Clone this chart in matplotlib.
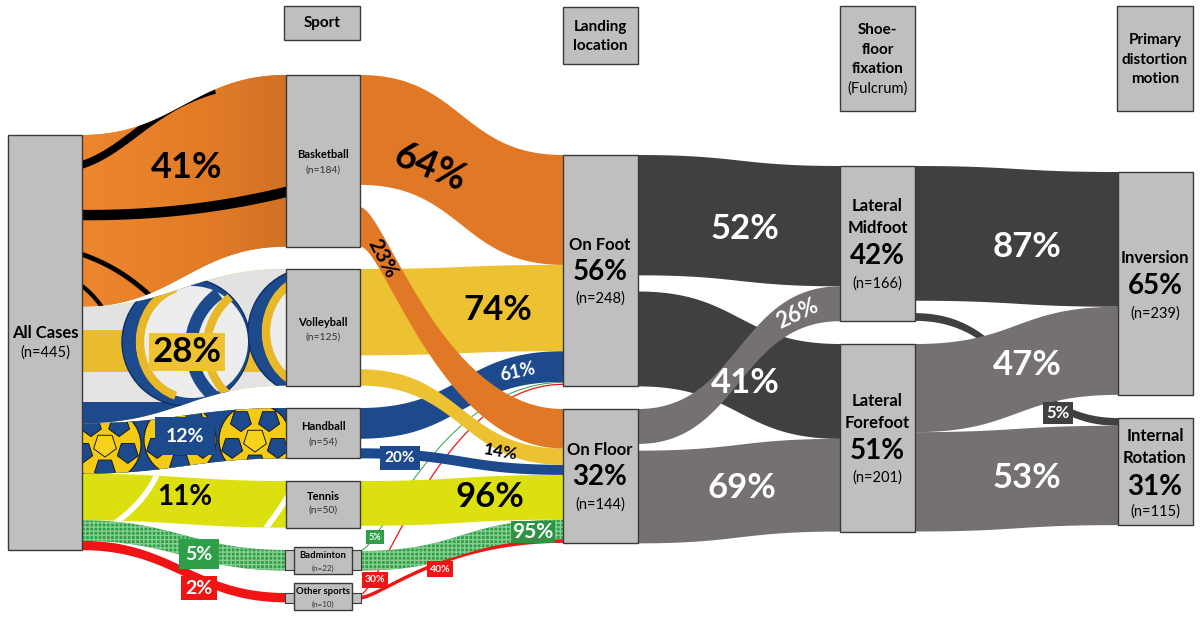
import numpy as np
import matplotlib
matplotlib.use("Agg")
import matplotlib.pyplot as plt
from matplotlib.patches import Polygon, Rectangle, Circle, Arc, RegularPolygon
from matplotlib.colors import LinearSegmentedColormap

plt.rcParams['font.family'] = ['Lato', 'DejaVu Sans']

# ---------------- data ----------------
total_n = 445
sports = ['Basketball', 'Volleyball', 'Handball', 'Tennis', 'Badminton', 'Other sports']
sport_n = [184, 125, 54, 50, 22, 10]
sport_pct = [41, 28, 12, 11, 5, 2]
sport_to_foot_pct = [64, 74, 61, 0, 5, 30]
sport_to_floor_pct = [23, 14, 20, 96, 95, 40]

landing = ['On Foot', 'On Floor']
landing_n = [248, 144]
landing_pct = [56, 32]
foot_to_fix_pct = [52, 41]     # On Foot -> Midfoot, Forefoot
floor_to_fix_pct = [26, 69]    # On Floor -> Midfoot, Forefoot

fixation = ['Lateral\nMidfoot', 'Lateral\nForefoot']
fixation_n = [166, 201]
fixation_pct = [42, 51]
midfoot_to_motion_pct = [87, 5]     # -> Inversion, Internal Rotation
forefoot_to_motion_pct = [47, 53]

motion = ['Inversion', 'Internal\nRotation']
motion_n = [239, 115]
motion_pct = [65, 31]

headers = ['Sport', 'Landing\nlocation', 'Shoe-\nfloor\nfixation', 'Primary\ndistortion\nmotion']
header_sub = ['', '', '(Fulcrum)', '']

# ---------------- layout ----------------
K = 0.933  # px per case
COL = [(8, 82), (286, 360), (563, 638), (840, 915), (1118, 1193)]
ALL_TOP = 135
SPORT_TOP = [75, 269, 408, 481, 550, 593]
LAND_TOP = [155, 409]
FIX_TOP = [166, 344]
MOT_TOP = [172, 418]

NODE_FC = '#BFBFBF'
NODE_EC = '#3A3A3A'
ORANGE = '#E07826'
YELLOW = '#EDC232'
BLUE = '#1C4A8C'
TENNIS = '#DCE00E'
GREEN = '#2F9E48'
RED = '#F01414'
DARK = '#404040'
GRAY = '#767171'
sport_col = [ORANGE, YELLOW, BLUE, TENNIS, GREEN, RED]

fig = plt.figure(figsize=(12, 6.18), dpi=100)
ax = fig.add_axes([0, 0, 1, 1])
ax.axis('off')


def edge(x0, x1, ya, yb, a, b, n=160):
    u = np.linspace(0, 1, n)
    dx = x1 - x0
    px = [x0, x0 + a * dx, x1 - b * dx, x1]
    py = [ya, ya, yb, yb]
    c = [(1 - u) ** 3, 3 * (1 - u) ** 2 * u, 3 * (1 - u) * u ** 2, u ** 3]
    return sum(ci * p for ci, p in zip(c, px)), sum(ci * p for ci, p in zip(c, py))


def band(x0, x1, y0a, y0b, y1a, y1b, z=2, a=0.5, b=0.5, **kw):
    xt, yt = edge(x0, x1, y0a, y1a, a, b)
    xb, yb = edge(x0, x1, y0b, y1b, a, b)
    verts = np.concatenate([np.c_[xt, yt], np.c_[xb[::-1], yb[::-1]]])
    p = Polygon(verts, closed=True, zorder=z, lw=0, **kw)
    ax.add_patch(p)
    return p


def node(x0, x1, y0, y1, z=5, lw=1.0):
    ax.add_patch(Rectangle((x0, y0), x1 - x0, y1 - y0, fc=NODE_FC, ec=NODE_EC, lw=lw, zorder=z))


def txt(x, y, s, size, color='black', bold=True, rot=0, box=None, z=10, pad=0.15):
    kw = {}
    if box is not None:
        kw['bbox'] = dict(boxstyle=f'square,pad={pad}', fc=box, ec='none')
    ax.text(x, y, s, fontsize=size, color=color, fontweight='bold' if bold else 'normal',
            ha='center', va='center', rotation=rot, rotation_mode='anchor', zorder=z, **kw)


def bezier(p0, p1, p2, p3, n=100):
    t = np.linspace(0, 1, n)[:, None]
    P = [np.array(p, float) for p in (p0, p1, p2, p3)]
    pts = (1 - t) ** 3 * P[0] + 3 * (1 - t) ** 2 * t * P[1] + 3 * (1 - t) * t ** 2 * P[2] + t ** 3 * P[3]
    return pts[:, 0], pts[:, 1]


def clip_line(xs, ys, clip, color, lw, z):
    ln, = ax.plot(xs, ys, color=color, lw=lw, zorder=z, solid_capstyle='butt')
    ln.set_clip_path(clip)

# ---------------- stage 1: All cases -> sports ----------------
x0, x1 = COL[0][1], COL[1][0]
src = ALL_TOP
sport_bands = []
for i in range(6):
    h = sport_n[i] * K
    p = band(x0, x1, src, src + h, SPORT_TOP[i], SPORT_TOP[i] + h, z=2, fc=sport_col[i], a=0.45, b=0.45)
    sport_bands.append(p)
    src += h

# basketball: gradient + black seams
pb = sport_bands[0]
cm = LinearSegmentedColormap.from_list('bb', ['#EC872E', '#E8812A', '#E07A26', '#D27124'])
im = ax.imshow(np.linspace(0, 1, 256).reshape(1, -1), cmap=cm, extent=(82, 286, 320, 60),
               aspect='auto', zorder=2.1, interpolation='bicubic')
im.set_clip_path(pb)
for (p0, p1, p2, p3), lw in [(((78, 166), (125, 153), (150, 108), (215, 90)), 5.5),
                             (((78, 215), (160, 216), (230, 206), (290, 191)), 7.5),
                             (((78, 253), (105, 262), (130, 275), (160, 305)), 3.5),
                             (((78, 283), (88, 290), (96, 298), (104, 310)), 3.0)]:
    xs, ys = bezier(p0, p1, p2, p3)
    clip_line(xs, ys, pb, 'black', lw, 2.2)

# volleyball: stripes + balls
pv = sport_bands[1]
for (ya, yb, c) in [(250, 330, '#E2E2E2'), (330, 372, '#E8BC2C'), (372, 402, '#E4E4E4'), (402, 440, BLUE)]:
    r = Rectangle((82, ya), 204, yb - ya, fc=c, ec='none', zorder=2.1)
    ax.add_patch(r)
    r.set_clip_path(pv)
for cx, cy in [(186, 342), (312, 332)]:
    c1 = Circle((cx, cy), 64, fc=BLUE, ec='#0E2F63', lw=1, zorder=2.2)
    ax.add_patch(c1); c1.set_clip_path(pv)
    c2 = Circle((cx + 6, cy), 56, fc='#EDEDED', ec='none', zorder=2.3)
    ax.add_patch(c2); c2.set_clip_path(pv)
    a1 = Arc((cx + 4, cy), 100, 112, theta1=105, theta2=255, color='#E8B828', lw=6, zorder=2.4)
    ax.add_patch(a1); a1.set_clip_path(pv)
    a2 = Arc((cx + 70, cy + 5), 130, 130, theta1=125, theta2=235, color=BLUE, lw=9, zorder=2.4)
    ax.add_patch(a2); a2.set_clip_path(pv)
    a3 = Arc((cx + 86, cy + 5), 130, 130, theta1=130, theta2=230, color='#E8B828', lw=6, zorder=2.4)
    ax.add_patch(a3); a3.set_clip_path(pv)

# handball: ball pattern
ph = sport_bands[2]
bg = Rectangle((82, 380), 204, 110, fc=BLUE, ec='none', zorder=2.1)
ax.add_patch(bg); bg.set_clip_path(ph)
for bx, by in [(105, 445), (180, 440), (255, 440)]:
    cc = Circle((bx, by), 36, fc='#F3CB15', ec='#1A1A1A', lw=0.8, zorder=2.2)
    ax.add_patch(cc); cc.set_clip_path(ph)
    for ang in range(0, 360, 72):
        px = bx + 24 * np.cos(np.radians(ang + 18))
        py = by + 24 * np.sin(np.radians(ang + 18))
        rp = RegularPolygon((px, py), 5, radius=11, fc=BLUE, ec='#1A1A1A', lw=0.7, zorder=2.3)
        ax.add_patch(rp); rp.set_clip_path(ph)
    rp = RegularPolygon((bx, by), 5, radius=12, fc='#F7D21C', ec='#1A1A1A', lw=0.7, zorder=2.3)
    ax.add_patch(rp); rp.set_clip_path(ph)

# tennis: white seams
pt = sport_bands[3]
for (p0, p1, p2, p3) in [((160, 468), (150, 492), (135, 510), (108, 528)),
                         ((294, 486), (286, 500), (278, 512), (266, 528))]:
    xs, ys = bezier(p0, p1, p2, p3)
    clip_line(xs, ys, pt, 'white', 4, 2.2)

# badminton: mesh
pbd = sport_bands[4]
ax.add_patch(Polygon(pbd.get_xy(), closed=True, fc='none', ec='#86CF8F', lw=0, hatch='++++', zorder=2.2))

# ---------------- stage 2: sports -> landing ----------------
x0, x1 = COL[1][1], COL[2][0]
foot_y = LAND_TOP[0]
floor_y = LAND_TOP[1]
foot_flows, floor_flows = [], []
for i in range(6):
    top = SPORT_TOP[i]
    h_all = sport_n[i] * K
    hf = sport_n[i] * sport_to_foot_pct[i] / 100 * K
    hl = sport_n[i] * sport_to_floor_pct[i] / 100 * K
    if i < 4:
        fsrc = (top, top + hf)
        lsrc = (top + h_all - hl, top + h_all) if hf > 0 else (top, top + hl)
    else:
        fsrc = (top, top + hf)
        lsrc = (top + hf, top + hf + hl)
    foot_flows.append((fsrc, (foot_y, foot_y + hf)))
    floor_flows.append((lsrc, (floor_y, floor_y + hl)))
    foot_y += hf
    floor_y += hl

# thin lines first (badminton & other to foot)
for i in [4, 5]:
    (a_, b_), (c_, d_) = foot_flows[i]
    xs, ys = edge(x0, x1, (a_ + b_) / 2, (c_ + d_) / 2, 0.1, 0.6)
    ax.plot(xs, ys, color=sport_col[i], lw=0.7 if i == 4 else 0.9, zorder=2)
(a_, b_), (c_, d_) = floor_flows[5]
band(x0, x1, a_, b_, c_, d_, z=2, fc=RED, a=0.1, b=0.6)
(a_, b_), (c_, d_) = floor_flows[4]
pbm = band(x0, x1, a_, b_, c_, d_, z=2.5, fc=GREEN)
ax.add_patch(Polygon(pbm.get_xy(), closed=True, fc='none', ec='#86CF8F', lw=0, hatch='++++', zorder=2.6))
(a_, b_), (c_, d_) = floor_flows[3]
band(x0, x1, a_, b_, c_, d_, z=2.5, fc=TENNIS)
(a_, b_), (c_, d_) = floor_flows[2]
band(x0, x1, a_, b_, c_, d_, z=2.5, fc=BLUE)
(a_, b_), (c_, d_) = foot_flows[2]
band(x0, x1, a_, b_, c_, d_, z=3, fc=BLUE)
(a_, b_), (c_, d_) = floor_flows[1]
band(x0, x1, a_, b_, c_, d_, z=3.2, fc=YELLOW)
(a_, b_), (c_, d_) = foot_flows[1]
band(x0, x1, a_, b_, c_, d_, z=3.2, fc=YELLOW)
(a_, b_), (c_, d_) = foot_flows[0]
band(x0, x1, a_, b_, c_, d_, z=3.4, fc=ORANGE)
(a_, b_), (c_, d_) = floor_flows[0]
band(x0, x1, a_, b_, c_, d_, z=3.4, fc=ORANGE, a=0.12, b=0.6)

# ---------------- stage 3: landing -> fixation ----------------
x0, x1 = COL[2][1], COL[3][0]
land_h = [n * K for n in landing_n]
flows3 = []
for li, pcts in enumerate([foot_to_fix_pct, floor_to_fix_pct]):
    top = LAND_TOP[li]
    h0 = landing_n[li] * pcts[0] / 100 * K
    h1 = landing_n[li] * pcts[1] / 100 * K
    flows3.append((li, (top, top + h0), 0, h0))
    flows3.append((li, (top + land_h[li] - h1, top + land_h[li]), 1, h1))
fy = list(FIX_TOP)
pos = {}
for f in [0, 1]:
    for l in [0, 1]:
        h = [hh for (ll, s, ff, hh) in flows3 if ll == l and ff == f][0]
        pos[(l, f)] = (fy[f], fy[f] + h)
        fy[f] += h
for (l, s, f, h) in flows3:
    z = 2 if l == 0 else 2.5
    band(x0, x1, s[0], s[1], pos[(l, f)][0], pos[(l, f)][1], z=z, fc=DARK if l == 0 else GRAY)

# ---------------- stage 4: fixation -> motion ----------------
x0, x1 = COL[3][1], COL[4][0]
fix_h = [n * K for n in fixation_n]
m_h = {
    (0, 0): fixation_n[0] * midfoot_to_motion_pct[0] / 100 * K,
    (0, 1): fixation_n[0] * midfoot_to_motion_pct[1] / 100 * K,
    (1, 0): fixation_n[1] * forefoot_to_motion_pct[0] / 100 * K,
    (1, 1): fixation_n[1] * forefoot_to_motion_pct[1] / 100 * K,
}
srcs = {
    (0, 0): (FIX_TOP[0], FIX_TOP[0] + m_h[(0, 0)]),
    (0, 1): (FIX_TOP[0] + fix_h[0] - m_h[(0, 1)], FIX_TOP[0] + fix_h[0]),
    (1, 0): (FIX_TOP[1], FIX_TOP[1] + m_h[(1, 0)]),
    (1, 1): (FIX_TOP[1] + m_h[(1, 0)], FIX_TOP[1] + m_h[(1, 0)] + m_h[(1, 1)]),
}
tg = {
    (0, 0): (MOT_TOP[0], MOT_TOP[0] + m_h[(0, 0)]),
    (1, 0): (MOT_TOP[0] + m_h[(0, 0)], MOT_TOP[0] + m_h[(0, 0)] + m_h[(1, 0)]),
    (0, 1): (MOT_TOP[1], MOT_TOP[1] + m_h[(0, 1)]),
    (1, 1): (MOT_TOP[1] + m_h[(0, 1)], MOT_TOP[1] + m_h[(0, 1)] + m_h[(1, 1)]),
}
for key, z in [((0, 1), 2), ((0, 0), 2.2), ((1, 0), 2.5), ((1, 1), 2.5)]:
    band(x0, x1, srcs[key][0], srcs[key][1], tg[key][0], tg[key][1], z=z,
         fc=DARK if key[0] == 0 else GRAY)

# ---------------- nodes ----------------
node(COL[0][0], COL[0][1], ALL_TOP, ALL_TOP + total_n * K)
for i in range(4):
    node(COL[1][0], COL[1][1], SPORT_TOP[i], SPORT_TOP[i] + sport_n[i] * K)
for i, (bt, bb) in enumerate([(547, 574), (583, 610)]):
    c = SPORT_TOP[4 + i] + sport_n[4 + i] * K / 2
    sq = 10 if i == 0 else 5
    node(285, 295, c - sq, c + sq, z=5, lw=0.8)
    node(351, 361, c - sq, c + sq, z=5, lw=0.8)
    node(294, 352, bt, bb, z=6)
for i in range(2):
    node(COL[2][0], COL[2][1], LAND_TOP[i], LAND_TOP[i] + landing_n[i] * K)
    node(COL[3][0], COL[3][1], FIX_TOP[i], FIX_TOP[i] + fixation_n[i] * K)
    node(COL[4][0], COL[4][1], MOT_TOP[i], MOT_TOP[i] + motion_n[i] * K)

# headers
hdr_boxes = [(284, 360, 6, 40), (563, 638, 7, 64), (840, 915, 6, 111), (1117, 1193, 6, 111)]
hdr_line_y = [[23], [27, 46], [30, 50, 69], [40, 60, 79]]
for j, (a, b, c, d) in enumerate(hdr_boxes):
    node(a, b, c, d)
    for s, yy in zip(headers[j].split('\n'), hdr_line_y[j]):
        txt((a + b) / 2, yy, s, 11)
    if header_sub[j]:
        txt((a + b) / 2, 89, header_sub[j], 10.5, bold=False)

# node labels
txt(45, 333, 'All Cases', 12)
txt(45, 353, f'(n={total_n})', 10.5, bold=False)
sl = [(155, 170), (322, 337), (426, 442), (496, 510), (556, 568), (592, 604)]
for i in range(6):
    fs = 8 if i < 4 else 6.8
    fs2 = 7.5 if i < 4 else 5.8
    txt(323, sl[i][0], sports[i], fs)
    txt(323, sl[i][1], f'(n={sport_n[i]})', fs2, color='#333333', bold=False)
for i in range(2):
    cy = LAND_TOP[i] + landing_n[i] * K / 2
    txt(600, cy - 26, landing[i], 12)
    txt(600, cy + 1, f'{landing_pct[i]}%', 20)
    txt(600, cy + 28, f'(n={landing_n[i]})', 10.5, bold=False)
    cy = FIX_TOP[i] + fixation_n[i] * K / 2
    l1, l2 = fixation[i].split('\n')
    txt(877.5, cy - 37, l1, 12)
    txt(877.5, cy - 15, l2, 12)
    txt(877.5, cy + 13, f'{fixation_pct[i]}%', 20)
    txt(877.5, cy + 40, f'(n={fixation_n[i]})', 10.5, bold=False)
cy = MOT_TOP[0] + motion_n[0] * K / 2
txt(1155, cy - 25, motion[0], 12)
txt(1155, cy + 3, f'{motion_pct[0]}%', 20)
txt(1155, cy + 30, f'(n={motion_n[0]})', 10.5, bold=False)
cy = MOT_TOP[1] + motion_n[1] * K / 2
l1, l2 = motion[1].split('\n')
txt(1155, cy - 36, l1, 12)
txt(1155, cy - 14, l2, 12)
txt(1155, cy + 15, f'{motion_pct[1]}%', 20)
txt(1155, cy + 40, f'(n={motion_n[1]})', 10.5, bold=False)

# flow labels: stage 1
txt(187, 168, f'{sport_pct[0]}%', 26)
txt(187, 352, f'{sport_pct[1]}%', 25, box='#EEC232', pad=0.1)
txt(185, 436, f'{sport_pct[2]}%', 14, color='white', box=BLUE, pad=0.55)
txt(185, 497, f'{sport_pct[3]}%', 20)
txt(199, 554, f'{sport_pct[4]}%', 14, color='white', box=GREEN, pad=0.35)
txt(199, 588, f'{sport_pct[5]}%', 14, color='white', box=RED, pad=0.2)

# stage 2
txt(430, 168, f'{sport_to_foot_pct[0]}%', 27, rot=-22)
txt(382, 258, f'{sport_to_floor_pct[0]}%', 15, rot=-62)
txt(498, 310, f'{sport_to_foot_pct[1]}%', 25)
txt(518, 372, f'{sport_to_foot_pct[2]}%', 13, color='white', rot=12)
txt(400, 458, f'{sport_to_floor_pct[2]}%', 11, color='white', box=BLUE, pad=0.3)
txt(501, 452, f'{sport_to_floor_pct[1]}%', 12.5, rot=-10)
txt(490, 497, f'{sport_to_floor_pct[3]}%', 25)
txt(533, 532, f'{sport_to_floor_pct[4]}%', 15, color='white', box='#2E9444', pad=0.05)
txt(375, 537, f'{sport_to_foot_pct[4]}%', 6.5, color='white', box=GREEN, pad=0.3)
txt(375, 580, f'{sport_to_foot_pct[5]}%', 7.5, color='white', box=RED, pad=0.3)
txt(440, 569, f'{sport_to_floor_pct[5]}%', 7.5, color='white', box=RED, pad=0.3)

# stage 3
txt(745, 229, f'{foot_to_fix_pct[0]}%', 25, color='white')
txt(797, 314, f'{floor_to_fix_pct[0]}%', 16, color='white', rot=25)
txt(745, 383, f'{foot_to_fix_pct[1]}%', 25, color='white')
txt(742, 488, f'{floor_to_fix_pct[1]}%', 25, color='white')

# stage 4
txt(1027, 247, f'{midfoot_to_motion_pct[0]}%', 25, color='white')
txt(1027, 365, f'{forefoot_to_motion_pct[0]}%', 25, color='white')
txt(1058, 413, f'{midfoot_to_motion_pct[1]}%', 12, color='white', box=DARK, pad=0.2)
txt(1027, 478, f'{forefoot_to_motion_pct[1]}%', 25, color='white')

ax.set_xlim(0, 1200)
ax.set_ylim(618, 0)
fig.savefig('out.png', dpi=100)
